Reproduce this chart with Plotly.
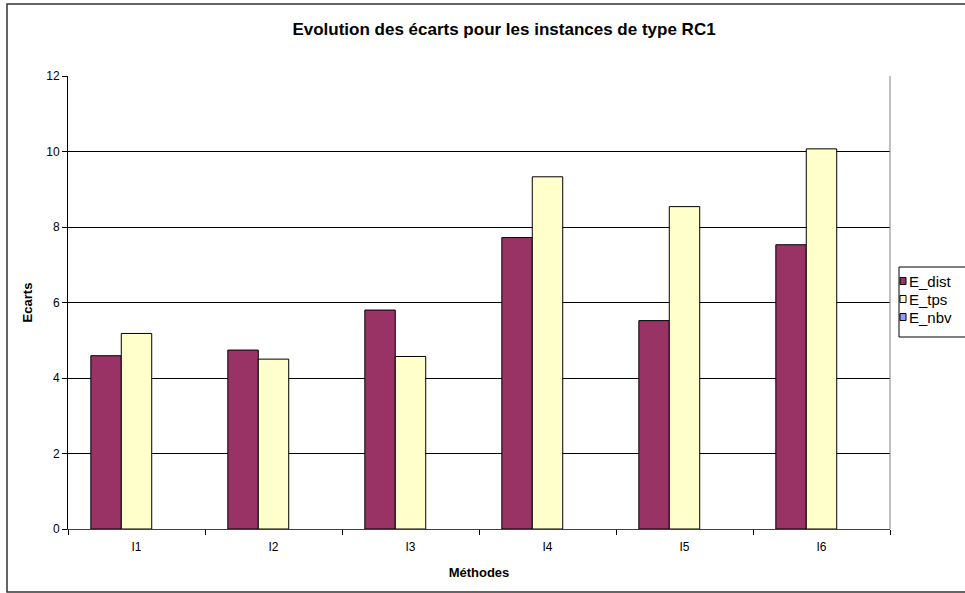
import plotly.graph_objects as go

categories = ["I1", "I2", "I3", "I4", "I5", "I6"]
e_dist = [4.59, 4.74, 5.80, 7.72, 5.52, 7.53]
e_tps = [5.18, 4.50, 4.57, 9.33, 8.54, 10.07]
e_nbv = [0, 0, 0, 0, 0, 0]
y_ticks = [0, 2, 4, 6, 8, 10, 12]
series_names = ["E_dist", "E_tps", "E_nbv"]
series_colors = ["#993366", "#FFFFCC", "#9999FF"]

FONT = "Liberation Sans, Arial, sans-serif"
W, H = 965, 593
L, R, T, B = 68, 75, 76, 64
pw, ph = W - L - R, H - T - B


def px_x(x):
    return (x - L) / pw


def px_y(y):
    return (H - B - y) / ph


fig = go.Figure()
for name, vals, col in zip(series_names, [e_dist, e_tps, e_nbv], series_colors):
    fig.add_trace(go.Bar(x=categories, y=vals, name=name, showlegend=False,
                         hoverinfo="x+y+name",
                         marker=dict(color=col,
                                     line=dict(color="black",
                                               width=1 if any(vals) else 0))))

shapes = [
    # chart area frame
    dict(type="rect", xref="paper", yref="paper", x0=px_x(7), x1=px_x(980),
         y0=px_y(592), y1=px_y(4), line=dict(color="#333333", width=1.5),
         layer="below"),
    # plot area right border
    dict(type="line", xref="paper", yref="paper", x0=1, x1=1, y0=0, y1=1,
         line=dict(color="#808080", width=1)),
    # legend box
    dict(type="rect", xref="paper", yref="paper", x0=px_x(899), x1=px_x(985),
         y0=px_y(337), y1=px_y(267), line=dict(color="black", width=1),
         fillcolor="white"),
]
annotations = []
for i, (name, col) in enumerate(zip(series_names, series_colors)):
    cy = 281 + 18 * i
    shapes.append(dict(type="rect", xref="paper", yref="paper",
                       x0=px_x(900), x1=px_x(906), y0=px_y(cy + 3.5), y1=px_y(cy - 3.5),
                       line=dict(color="black", width=1), fillcolor=col))
    annotations.append(dict(text=name, xref="paper", yref="paper",
                            x=px_x(906.5), y=px_y(cy), xanchor="left", yanchor="middle",
                            showarrow=False,
                            font=dict(family=FONT, size=15, color="black")))

fig.update_layout(
    width=W, height=H,
    margin=dict(l=L, r=R, t=T, b=B, autoexpand=False),
    paper_bgcolor="white", plot_bgcolor="white",
    barmode="group", bargap=1/3, bargroupgap=0,
    font=dict(family=FONT, size=12, color="black"),
    title=dict(text="<b>Evolution des écarts pour les instances de type RC1</b>",
               x=px_x(504), xref="paper", xanchor="center",
               y=1 - 29 / H, yanchor="middle",
               font=dict(family=FONT, size=17, color="black")),
    showlegend=False,
    xaxis=dict(title=dict(text="<b>Méthodes</b>", standoff=14,
                          font=dict(family=FONT, size=13)),
               showline=True, linecolor="#404040", linewidth=1,
               ticks="outside", tickson="boundaries", ticklen=5, tickcolor="black",
               ticklabelstandoff=7,
               showgrid=False, tickfont=dict(size=12)),
    yaxis=dict(title=dict(text="<b>Ecarts</b>", standoff=10,
                          font=dict(family=FONT, size=13)),
               range=[0, 12], tickvals=y_ticks, showline=True, linecolor="black",
               linewidth=1, ticks="outside", ticklen=5, tickcolor="black",
               showgrid=True, gridcolor="black", gridwidth=1, zeroline=False,
               tickfont=dict(size=12)),
    shapes=shapes,
    annotations=annotations,
)

fig.write_html("out.html", config={"displayModeBar": False},
               post_script="document.body.style.margin='0';")
